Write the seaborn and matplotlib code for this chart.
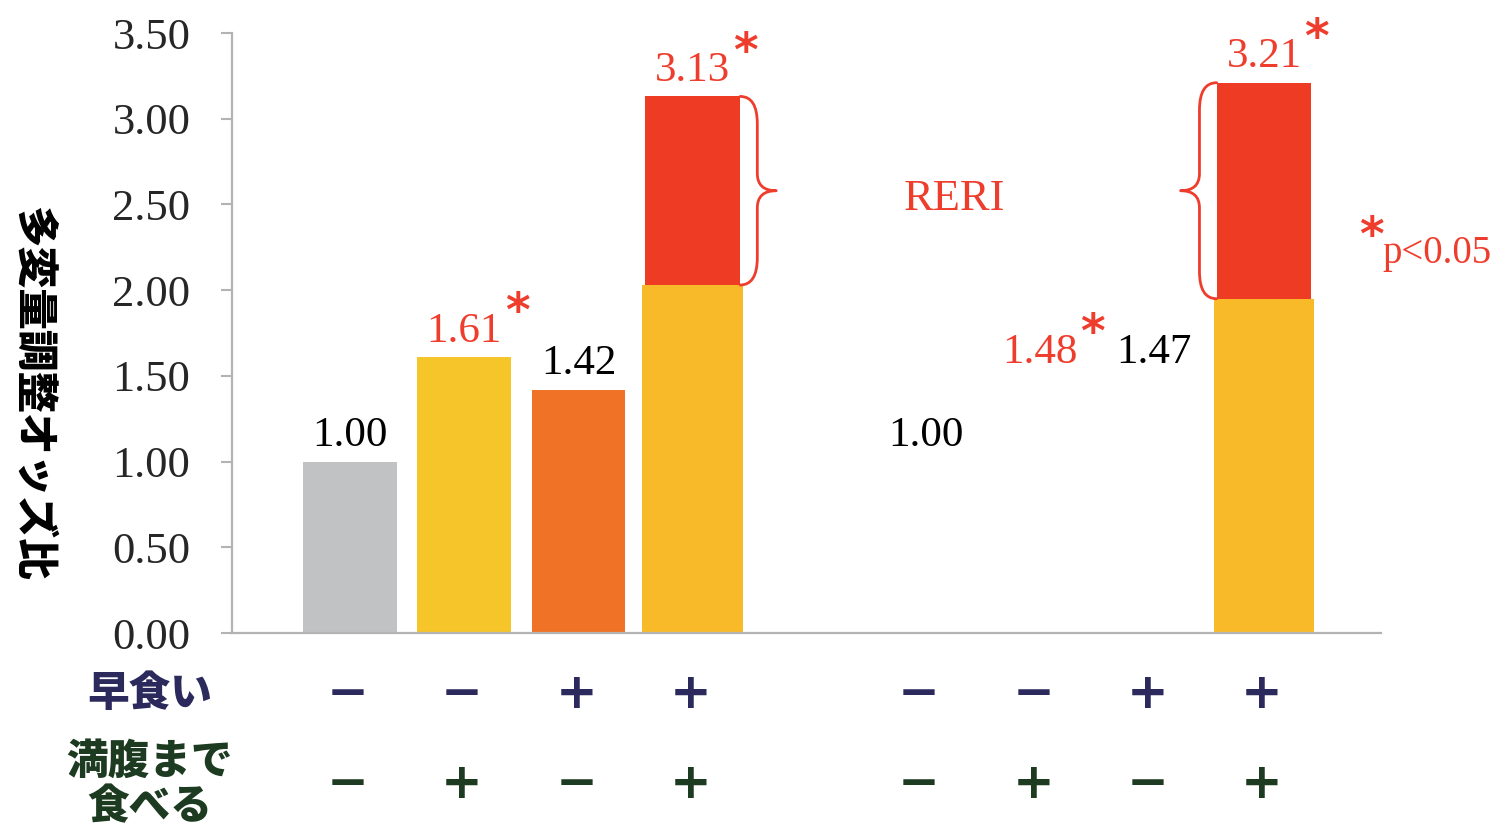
import numpy as np
import pandas as pd
import matplotlib
matplotlib.use("Agg")
import matplotlib.pyplot as plt
import matplotlib.transforms as mtransforms
from matplotlib.path import Path
from matplotlib.patches import PathPatch
import seaborn as sns

# Multivariable-adjusted odds ratios by (早食い, 満腹まで食べる) combination
fast_eating = ["−", "−", "+", "+"]
eat_until_full = ["−", "+", "−", "+"]
or_group1 = [1.00, 1.61, 1.42, 3.13]
or_group2 = [1.00, 1.48, 1.47, 3.21]
sig_group1 = [False, True, False, True]
sig_group2 = [False, True, False, True]
row_labels = ["早食い", "満腹まで\n食べる"]
y_label = "多変量調整オッズ比"
y_ticks = [0.0, 0.5, 1.0, 1.5, 2.0, 2.5, 3.0, 3.5]

SERIF = "Liberation Serif"
CJK = "Noto Sans CJK JP"
RED_TXT = "#ee3d2c"
NAVY = "#2c2a5c"
GREEN = "#1d3b20"
GRAY_AX = "#b3b3b3"
BAR_COLORS = {"ref": "#c1c2c4", "a": "#f6c52a", "b": "#f07226"}
JOINT_TOP = "#ee3b24"
JOINT_BASE = "#f8ba28"

sns.set_style("white")
plt.rcParams["font.family"] = [SERIF, CJK, "DejaVu Sans"]

# slot layout: four bars, a gap, four more
slots = ["A0", "A1", "A2", "A3", "gap", "B0", "B1", "B2", "B3"]
slot_pos = {s: i for i, s in enumerate(slots)}

# single-exposure bars (first group only)
singles = pd.DataFrame({
    "slot": ["A0", "A1", "A2"],
    "odds": or_group1[:3],
    "kind": ["ref", "a", "b"],
})
# joint-exposure bars: total OR, with the additive-expected part underneath
joint_total = [or_group1[3], or_group2[3]]
joint_base = [or_group1[1] + or_group1[2] - 1, or_group2[1] + or_group2[2] - 1]
joint = pd.DataFrame({"slot": ["A3", "B3"], "total": joint_total, "base": joint_base})

fig, ax = plt.subplots(figsize=(14.96, 8.30), dpi=100)
fig.subplots_adjust(left=232 / 1496, right=1381 / 1496,
                    bottom=1 - 633 / 830, top=1 - 33 / 830)

sns.barplot(data=singles, x="slot", y="odds", hue="kind", order=slots,
            palette=BAR_COLORS, width=0.82, legend=False, ax=ax,
            saturation=1, linewidth=0)
sns.barplot(data=joint, x="slot", y="total", order=slots, color=JOINT_TOP,
            width=0.83, ax=ax, saturation=1, linewidth=0)
sns.barplot(data=joint, x="slot", y="base", order=slots, color=JOINT_BASE,
            width=0.88, ax=ax, saturation=1, linewidth=0)

ax.set_xlim(-1.033, 9.024)
ax.set_ylim(0, 3.5)
ax.set_xticks([])
ax.set_xlabel("")
ax.set_yticks(y_ticks)
ax.set_yticklabels([f"{t:.2f}" for t in y_ticks], fontsize=32, family=SERIF)
ax.tick_params(axis="y", direction="out", length=8, width=1.5,
               color=GRAY_AX, pad=22, left=True)
for side in ["top", "right"]:
    ax.spines[side].set_visible(False)
for side in ["left", "bottom"]:
    ax.spines[side].set_color(GRAY_AX)
    ax.spines[side].set_linewidth(1.6)

ax.set_ylabel(y_label, rotation=270, fontsize=30, family=CJK,
              fontweight="black", color="black")
ax.yaxis.label.set_verticalalignment("center")
ax.yaxis.label.set_horizontalalignment("center")
ax.yaxis.set_label_coords(-0.174, 0.40)


def star_after(label):
    ax.annotate("*", xy=(1, 1), xycoords=label, xytext=(2, -1),
                textcoords="offset points", ha="left", va="center",
                fontsize=34, fontweight="bold", family="DejaVu Sans",
                color=RED_TXT)


# value labels of the first group sit on their bars
for i, (v, sig) in enumerate(zip(or_group1, sig_group1)):
    t = ax.annotate(f"{v:.2f}", xy=(slot_pos[f"A{i}"], v), xytext=(0, 11),
                    textcoords="offset points", ha="center", va="baseline",
                    fontsize=31, family=SERIF,
                    color=RED_TXT if sig else "black")
    if sig:
        star_after(t)

# second group: only the joint bar is drawn
g2_label_y = [1.09, 1.575, 1.575, None]
for i, (v, sig) in enumerate(zip(or_group2, sig_group2)):
    x = slot_pos[f"B{i}"]
    if i == 3:
        t = ax.annotate(f"{v:.2f}", xy=(x, v), xytext=(0, 11),
                        textcoords="offset points", ha="center",
                        va="baseline", fontsize=31, family=SERIF,
                        color=RED_TXT if sig else "black")
    else:
        t = ax.text(x + 0.04, g2_label_y[i], f"{v:.2f}", ha="center",
                    va="baseline", fontsize=31, family=SERIF,
                    color=RED_TXT if sig else "black")
    if sig:
        star_after(t)


def curly_brace(x_base, y_low, y_high, direction):
    stem = x_base + direction * 0.15
    tip = x_base + direction * 0.315
    ym = (y_low + y_high) / 2
    r, k = 0.16, 0.10
    verts = [(x_base, y_high), (stem, y_high), (stem, y_high - r),
             (stem, ym + k), (stem, ym), (tip, ym),
             (stem, ym), (stem, ym - k),
             (stem, y_low + r), (stem, y_low), (x_base, y_low)]
    codes = [Path.MOVETO, Path.CURVE3, Path.CURVE3, Path.LINETO,
             Path.CURVE3, Path.CURVE3, Path.CURVE3, Path.CURVE3,
             Path.LINETO, Path.CURVE3, Path.CURVE3]
    ax.add_patch(PathPatch(Path(verts, codes), fill=False,
                           edgecolor=RED_TXT, linewidth=2.0,
                           capstyle="round", joinstyle="round"))


# braces mark the interaction excess (RERI) part of each joint bar
curly_brace(slot_pos["A3"] + 0.83 / 2, joint_base[0], joint_total[0], +1)
curly_brace(slot_pos["B3"] - 0.83 / 2, joint_base[1], joint_total[1], -1)

ax.text(5.29, 2.47, "RERI", ha="center", va="baseline", fontsize=32,
        family=SERIF, color=RED_TXT)

# significance note
note = ax.text(9.035, 2.16, "p<0.05", ha="left", va="baseline", fontsize=28,
               family=SERIF, color=RED_TXT, clip_on=False)
ax.annotate("*", xy=(0, 1), xycoords=note, xytext=(1, -2),
            textcoords="offset points", ha="right", va="center",
            fontsize=34, fontweight="bold", family="DejaVu Sans",
            color=RED_TXT)

# exposure rows below the axis
blend = mtransforms.blended_transform_factory(ax.transData, ax.transAxes)
row_y = [-0.101, -0.252]
row_colors = [NAVY, GREEN]
for signs, y, c in zip([fast_eating, eat_until_full], row_y, row_colors):
    for g in ["A", "B"]:
        for i, s in enumerate(signs):
            ax.text(slot_pos[f"{g}{i}"] - 0.02, y, s, transform=blend,
                    ha="center", va="center", fontsize=36, fontweight="bold",
                    family="DejaVu Sans", color=c, clip_on=False)
for lbl, y, c in zip(row_labels, row_y, row_colors):
    ax.text(-0.0714, y, lbl, transform=ax.transAxes, ha="center",
            va="center", fontsize=30, fontweight="black", family=CJK,
            color=c, linespacing=1.1, clip_on=False)

fig.savefig("out.png", dpi=100)
